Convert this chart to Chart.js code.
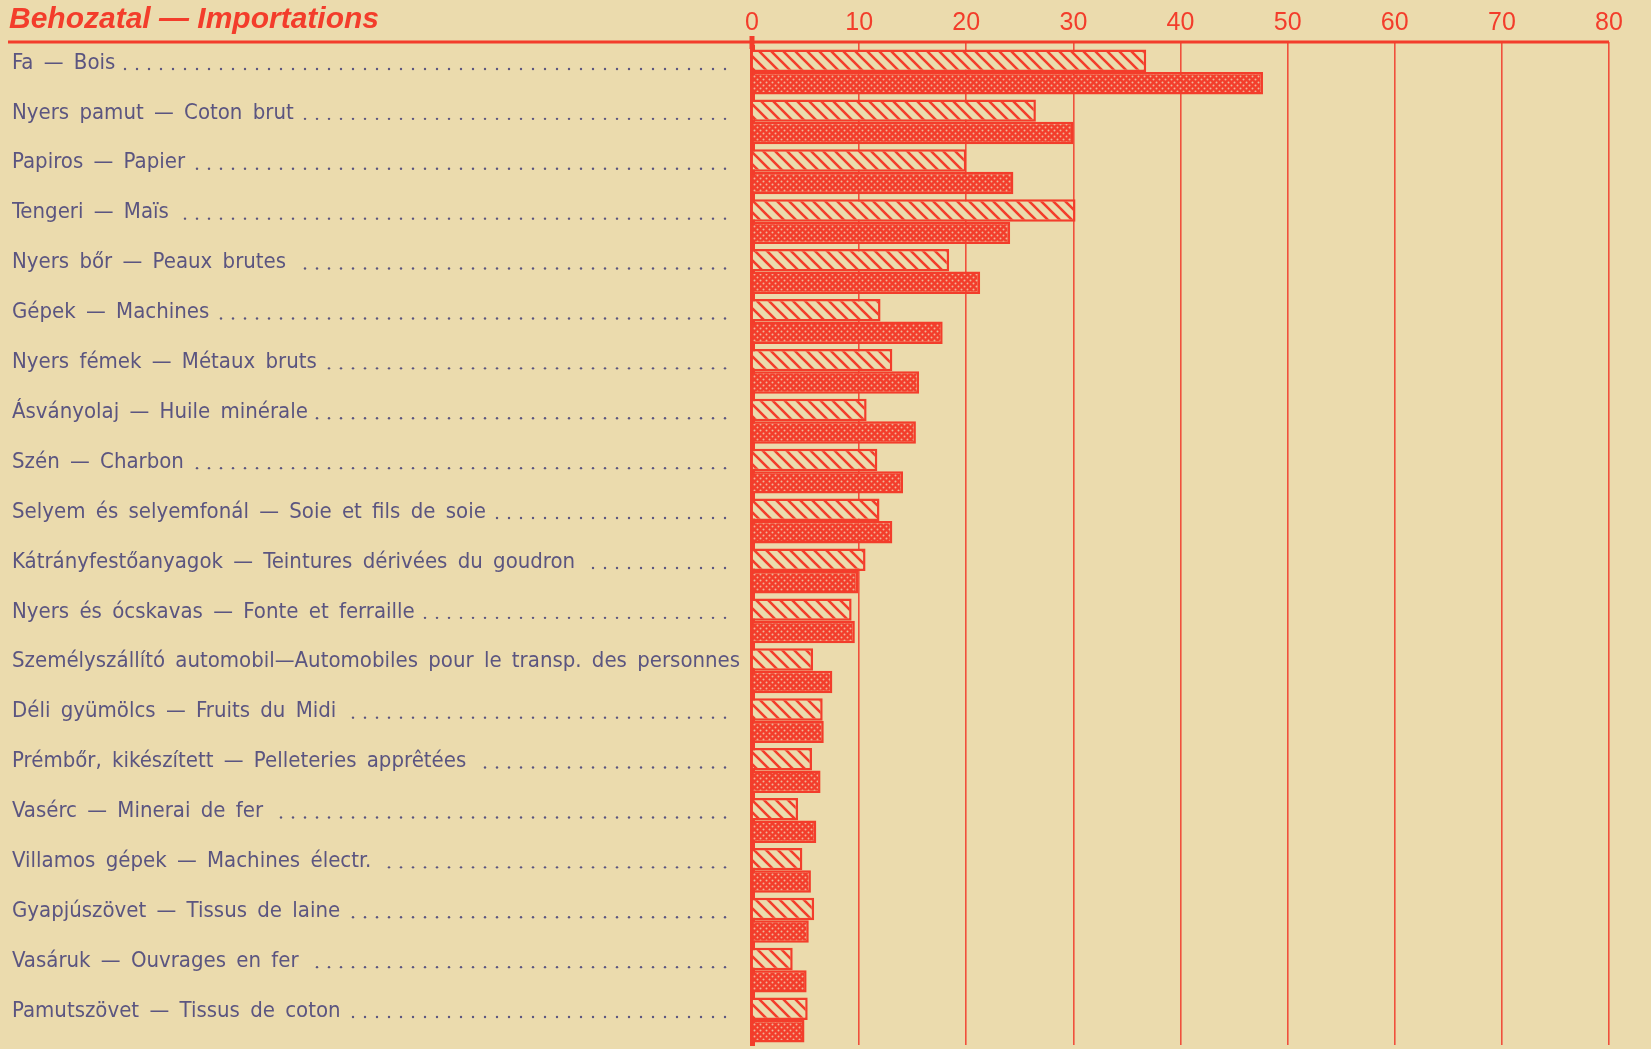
<!DOCTYPE html>
<html>
<head>
<meta charset="utf-8">
<title>Behozatal — Importations</title>
<script src="https://cdn.jsdelivr.net/npm/chart.js@4/dist/chart.umd.min.js"></script>
<style>
    html, body { margin: 0; padding: 0; background: #ebdbad; }
    #wrap { width: 1651px; height: 1049px; position: relative; }
</style>
</head>
<body>
<div id="wrap"><canvas id="importChart" width="1651" height="1049"></canvas></div>
<script>
// Categories (Hungarian — French)
const categories = [
    'Fa — Bois',
    'Nyers pamut — Coton brut',
    'Papiros — Papier',
    'Tengeri — Maïs',
    'Nyers bőr — Peaux brutes',
    'Gépek — Machines',
    'Nyers fémek — Métaux bruts',
    'Ásványolaj — Huile minérale',
    'Szén — Charbon',
    'Selyem és selyemfonál — Soie et fils de soie',
    'Kátrányfestőanyagok — Teintures dérivées du goudron',
    'Nyers és ócskavas — Fonte et ferraille',
    'Személyszállító automobil—Automobiles pour le transp. des personnes',
    'Déli gyümölcs — Fruits du Midi',
    'Prémbőr, kikészített — Pelleteries apprêtées',
    'Vasérc — Minerai de fer',
    'Villamos gépek — Machines électr.',
    'Gyapjúszövet — Tissus de laine',
    'Vasáruk — Ouvrages en fer',
    'Pamutszövet — Tissus de coton'
];

// hatched bars (upper bar of each pair)
const hatchedValues = [36.8, 26.5, 20.0, 30.2, 18.4, 12.0, 13.1, 10.7, 11.7, 11.9,
                       10.6, 9.3, 5.7, 6.6, 5.6, 4.3, 4.7, 5.8, 3.8, 5.2];

// dotted bars (lower bar of each pair)
const dottedValues = [47.7, 30.0, 24.4, 24.1, 21.3, 17.8, 15.6, 15.3, 14.1, 13.1,
                      9.9, 9.6, 7.5, 6.7, 6.4, 6.0, 5.5, 5.3, 5.1, 4.9];

const xTicks = [0, 10, 20, 30, 40, 50, 60, 70, 80];

const titleText = 'Behozatal — Importations';

const RED = '#f33d2b';
const PAPER = '#ebdbad';
const INK = '#5b5580';
const LABEL_FAMILY = '"DejaVu Sans Condensed", "Liberation Sans Narrow", sans-serif';
const LABEL_SIZE = 22;
const LABEL_OFFSET = -9;
const WORD_GAP = '4px';
const RULE_Y = 42;

function makeHatch() {
    const s = 12;
    const c = document.createElement('canvas');
    c.width = s; c.height = s;
    const g = c.getContext('2d');
    g.fillStyle = PAPER;
    g.fillRect(0, 0, s, s);
    g.strokeStyle = RED;
    g.lineWidth = 2.6;
    g.beginPath();
    g.moveTo(-2, -2); g.lineTo(s + 2, s + 2);
    g.moveTo(-s - 2, -2); g.lineTo(2, s + 2);
    g.moveTo(s - 2, -2); g.lineTo(2 * s + 2, s + 2);
    g.stroke();
    return g.createPattern(c, 'repeat');
}

function makeDots() {
    const s = 6;
    const c = document.createElement('canvas');
    c.width = s; c.height = s;
    const g = c.getContext('2d');
    g.fillStyle = RED;
    g.fillRect(0, 0, s, s);
    g.fillStyle = 'rgba(240, 195, 165, 0.9)';
    [[1.5, 1.5], [4.5, 4.5]].forEach(p => {
        g.beginPath();
        g.arc(p[0], p[1], 1.0, 0, Math.PI * 2);
        g.fill();
    });
    return g.createPattern(c, 'repeat');
}

// title, top rule and dotted leaders
const decorPlugin = {
    id: 'decor',
    beforeDraw(chart) {
        chart.ctx.wordSpacing = WORD_GAP;
    },
    afterDraw(chart) {
        const ctx = chart.ctx;
        const area = chart.chartArea;
        const yScale = chart.scales.y;

        ctx.save();
        ctx.wordSpacing = '0px';
        ctx.fillStyle = RED;
        ctx.font = 'italic bold 30px "Liberation Sans", Arial, sans-serif';
        ctx.textBaseline = 'alphabetic';
        ctx.textAlign = 'left';
        ctx.fillText(titleText, 9, 28);

        ctx.strokeStyle = RED;
        ctx.lineWidth = 3;
        ctx.beginPath();
        ctx.moveTo(8, RULE_Y);
        ctx.lineTo(area.right, RULE_Y);
        ctx.stroke();

        // zero line reaches through the rule
        ctx.lineWidth = 5;
        ctx.beginPath();
        ctx.moveTo(area.left, RULE_Y - 6);
        ctx.lineTo(area.left, area.top + 2);
        ctx.stroke();
        ctx.restore();

        ctx.save();
        ctx.wordSpacing = WORD_GAP;
        ctx.font = LABEL_SIZE + 'px ' + LABEL_FAMILY;
        ctx.fillStyle = INK;
        const endX = area.left - 27;
        categories.forEach((label, i) => {
            const w = ctx.measureText(label).width;
            const startX = yScale.left + w + 8;
            const y = yScale.getPixelForTick(i) + LABEL_OFFSET + 6;
            for (let x = endX; x >= startX; x -= 12) {
                ctx.beginPath();
                ctx.arc(x, y, 1.2, 0, Math.PI * 2);
                ctx.fill();
            }
        });
        ctx.restore();
        ctx.wordSpacing = '0px';
    }
};

function initializeImportChart() {
    const ctx = document.getElementById('importChart').getContext('2d');

    new Chart(ctx, {
        type: 'bar',
        data: {
            labels: categories,
            datasets: [{
                label: 'hatched',
                data: hatchedValues,
                backgroundColor: makeHatch(),
                borderColor: RED,
                borderWidth: 2.5,
                borderSkipped: 'start',
                barPercentage: 1.0,
                categoryPercentage: 0.9
            }, {
                label: 'dotted',
                data: dottedValues,
                backgroundColor: makeDots(),
                borderColor: RED,
                borderWidth: 2.5,
                borderSkipped: 'start',
                barPercentage: 1.0,
                categoryPercentage: 0.9
            }]
        },
        options: {
            indexAxis: 'y',
            responsive: false,
            animation: false,
            layout: {
                padding: { left: 12, right: 42, top: 0, bottom: 4 }
            },
            plugins: {
                legend: { display: false },
                tooltip: { enabled: false }
            },
            scales: {
                x: {
                    position: 'top',
                    min: xTicks[0],
                    max: xTicks[xTicks.length - 1],
                    afterBuildTicks: scale => {
                        scale.ticks = xTicks.map(v => ({ value: v }));
                    },
                    afterFit: scale => { scale.height = 47; },
                    ticks: {
                        color: RED,
                        padding: 4,
                        font: { family: '"Liberation Sans", Arial, sans-serif', size: 25 }
                    },
                    grid: {
                        color: '#f0503c',
                        lineWidth: 1.6,
                        drawTicks: true,
                        tickLength: 5,
                        tickColor: '#f0503c'
                    },
                    border: { display: false }
                },
                y: {
                    afterFit: scale => {
                        scale.width = 740;
                        scale.paddingTop = 0;
                        scale.paddingBottom = 0;
                    },
                    ticks: {
                        autoSkip: false,
                        crossAlign: 'far',
                        labelOffset: LABEL_OFFSET,
                        color: INK,
                        font: { family: LABEL_FAMILY, size: LABEL_SIZE }
                    },
                    grid: { display: false },
                    border: { color: RED, width: 5 }
                }
            }
        },
        plugins: [decorPlugin]
    });
}

document.addEventListener('DOMContentLoaded', initializeImportChart);
</script>
</body>
</html>
